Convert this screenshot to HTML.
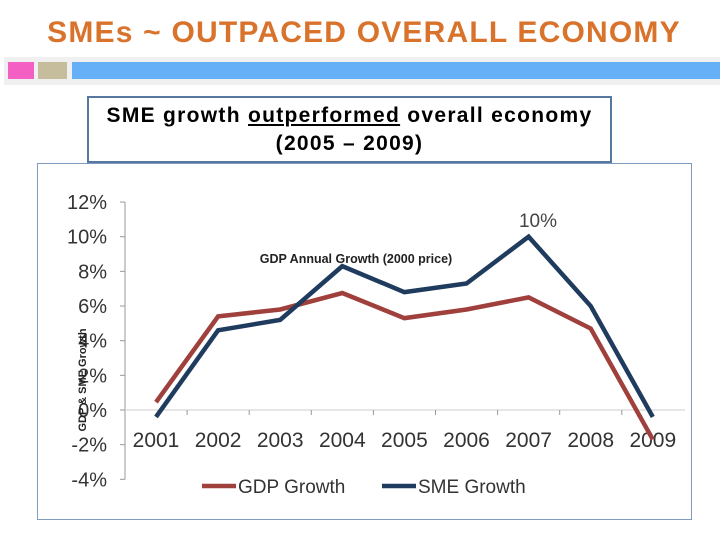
<!DOCTYPE html>
<html><head><meta charset="utf-8"><style>
body{margin:0;width:720px;height:540px;background:#fff;font-family:"Liberation Sans",sans-serif;position:relative;overflow:hidden}
.abs{position:absolute}
</style></head><body>
<div class="abs" style="left:0;top:16px;width:728px;text-align:center;font-size:30px;letter-spacing:1.2px;font-weight:bold;color:#d9722a;white-space:nowrap">SMEs ~ OUTPACED OVERALL ECONOMY</div>
<div class="abs" style="left:4px;top:57px;width:716px;height:28px;background:#f0f0f0"></div>
<div class="abs" style="left:8px;top:62px;width:26px;height:17px;background:#f35fc3"></div>
<div class="abs" style="left:38px;top:62px;width:29px;height:17px;background:#c6bd9d"></div>
<div class="abs" style="left:72px;top:62px;width:648px;height:17px;background:#66b0f8"></div>
<div class="abs" style="left:37px;top:163px;width:655px;height:357px;border:1px solid #7f9bbd;box-sizing:border-box"></div>
<div class="abs" style="left:87px;top:96px;width:525px;height:67px;border:2px solid #5577a0;box-sizing:border-box;background:#fff;text-align:center;font-size:21px;letter-spacing:1.3px;font-weight:bold;line-height:28px;padding-top:4px;white-space:nowrap">SME growth <u>outperformed</u> overall economy<br>(2005 – 2009)</div>
<svg class="abs" style="left:0;top:0" width="720" height="540" id="chart"></svg>
<script>
const years=["2001","2002","2003","2004","2005","2006","2007","2008","2009"];
const gdp=[0.45,5.4,5.8,6.75,5.3,5.8,6.5,4.7,-1.7];
const sme=[-0.4,4.6,5.2,8.3,6.8,7.3,10,6,-0.4];
const yTicks=[12,10,8,6,4,2,0,-2,-4];
const svg=document.getElementById('chart');
const NS='http://www.w3.org/2000/svg';
const y=v=>410-v*17.33;
const x=i=>156+i*62.1;
function mk(t,a,txt){const e=document.createElementNS(NS,t);for(const k in a)e.setAttribute(k,a[k]);if(txt!=null)e.textContent=txt;svg.appendChild(e);return e;}
let e=mk('line',{x1:125,y1:y(12),x2:125,y2:y(-4),stroke:'#999'});


yTicks.forEach(v=>{
 let t=mk('line',{x1:120,y1:y(v),x2:125,y2:y(v),stroke:'#999'});
 
 
 let l=mk('text',{x:107,y:y(v)+7,'text-anchor':'end','font-size':20,fill:'#333','font-family':'Liberation Sans,sans-serif'},v+'%');
 
 
});
e=mk('line',{x1:125,y1:410,x2:685,y2:410,stroke:'#ccc'});


years.forEach((yr,i)=>{
 if(i>0){let t=mk('line',{x1:x(i)-31,y1:410,x2:x(i)-31,y2:415,stroke:'#999'});
 
 }
 let l=mk('text',{x:x(i),y:447,'text-anchor':'middle','font-size':21,fill:'#333','font-family':'Liberation Sans,sans-serif'},yr);
 
 
});
function series(d,c,n){
 let p=mk('polyline',{points:d.map((v,i)=>x(i)+','+y(v)).join(' '),fill:'none',stroke:c,'stroke-width':4.5,'stroke-linejoin':'miter'});
 
 
}
series(gdp,'#a0403c','gdp-growth-line');
series(sme,'#1f3b5e','sme-growth-line');
e=mk('text',{x:538,y:227,'text-anchor':'middle','font-size':19,fill:'#444','font-family':'Liberation Sans,sans-serif'},sme[6]+'%');


e=mk('text',{x:356,y:263,'text-anchor':'middle','font-size':12.5,'font-weight':'bold',fill:'#222','font-family':'Liberation Sans,sans-serif'},'GDP Annual Growth (2000 price)');


e=mk('text',{x:0,y:0,transform:'translate(86,380) rotate(-90)','text-anchor':'middle','font-size':11,'font-weight':'bold',fill:'#222','font-family':'Liberation Sans,sans-serif'},'GDP & SME Growth');


e=mk('line',{x1:202,y1:486,x2:236,y2:486,stroke:'#a0403c','stroke-width':4.5});


e=mk('text',{x:238,y:493,'font-size':19,fill:'#333','font-family':'Liberation Sans,sans-serif'},'GDP Growth');


e=mk('line',{x1:382,y1:486,x2:416,y2:486,stroke:'#1f3b5e','stroke-width':4.5});


e=mk('text',{x:418,y:493,'font-size':19,fill:'#333','font-family':'Liberation Sans,sans-serif'},'SME Growth');


</script>
</body></html>
